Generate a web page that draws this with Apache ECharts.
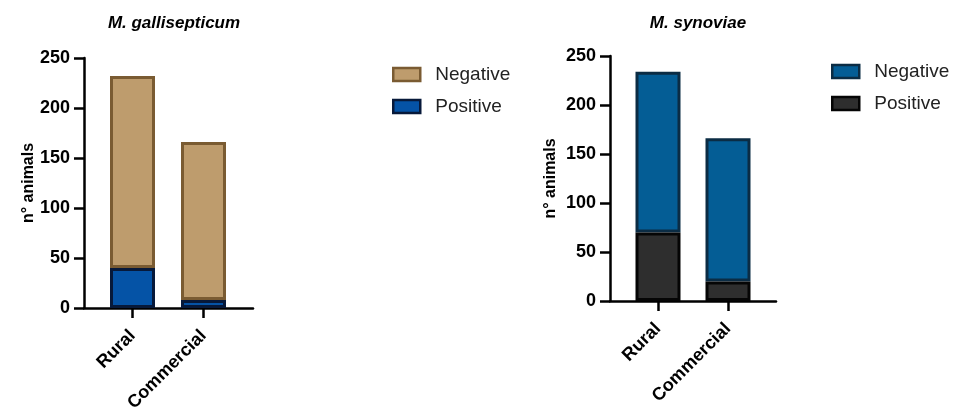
<!DOCTYPE html>
<html>
<head>
<meta charset="utf-8">
<script src="https://cdn.jsdelivr.net/npm/echarts@6/dist/echarts.min.js"></script>
<style>html,body{margin:0;padding:0;background:#fff;}#c{width:956px;height:410px;}</style>
</head>
<body>
<div id="c"></div>
<script>
const categories = ['Rural', 'Commercial'];
const mgPositive = [40, 8];
const mgNegative = [192, 158];
const msPositive = [70, 20];
const msNegative = [164, 146];
const yTicks = [0, 50, 100, 150, 200, 250];
const titles = ['M. gallisepticum', 'M. synoviae'];
const legendNames = ['Negative', 'Positive'];

const FONT = '"Liberation Sans", Arial, sans-serif';
const chart = echarts.init(document.getElementById('c'));

function mainX(gi) {
  return {
    type: 'category', gridIndex: gi, data: categories,
    axisLine: { show: false },
    axisTick: { show: true, alignWithLabel: true, length: 10, lineStyle: { color: '#000', width: 2.5 } },
    axisLabel: { rotate: 45, margin: 25, color: '#000', fontWeight: 'bold', fontSize: 18, fontFamily: FONT },
    splitLine: { show: false }
  };
}
function dummyX(gi) {
  return {
    type: 'value', gridIndex: gi, min: 0, max: 1,
    axisLine: { show: true, lineStyle: { color: '#000', width: 2.5 } },
    axisTick: { show: false }, axisLabel: { show: false }, splitLine: { show: false }
  };
}
function mainY(gi, offset, nameGap) {
  return {
    type: 'value', gridIndex: gi, min: yTicks[0], max: yTicks[yTicks.length - 1], interval: 50,
    offset: offset,
    name: 'n° animals', nameLocation: 'middle', nameGap: nameGap, nameMoveOverlap: false,
    nameTextStyle: { color: '#000', fontWeight: 'bold', fontSize: 16, fontFamily: FONT },
    axisLine: { show: true, lineStyle: { color: '#000', width: 2.5 } },
    axisTick: { show: true, length: 10, lineStyle: { color: '#000', width: 2.5 } },
    axisLabel: { margin: 14, color: '#000', fontWeight: 'bold', fontSize: 18, fontFamily: FONT },
    splitLine: { show: false }
  };
}
function dummyY(gi) {
  return { type: 'value', gridIndex: gi, min: 0, max: 1, show: false };
}

function bar(name, data, gi, stack, fill, border, z) {
  return {
    name: name, type: 'bar', stack: stack, xAxisIndex: gi, yAxisIndex: gi, data: data,
    barWidth: 45, z: z,
    itemStyle: { color: fill, borderColor: border, borderWidth: 3 },
    emphasis: { disabled: true }
  };
}

function legend(left, top, prefix) {
  return {
    orient: 'vertical', left: left, top: top, padding: 0, itemGap: 13,
    itemWidth: 27, itemHeight: 13, icon: 'rect',
    itemStyle: { borderWidth: 2.5 },
    data: legendNames.map(n => prefix + n),
    formatter: n => n.slice(prefix.length),
    textStyle: { color: '#222', fontSize: 19, fontFamily: FONT, padding: [0, 0, 0, 10] },
    selectedMode: false
  };
}

function grid(left, top, width, height) {
  return { left: left, top: top, width: width, height: height, outerBoundsMode: 'none', containLabel: false };
}

chart.setOption({
  animation: false,
  backgroundColor: '#fff',
  title: [
    { text: titles[0], left: 169, top: 10, textAlign: 'center',
      textStyle: { fontSize: 17, fontWeight: 'bold', fontStyle: 'italic', color: '#000', fontFamily: FONT } },
    { text: titles[1], left: 693, top: 10, textAlign: 'center',
      textStyle: { fontSize: 17, fontWeight: 'bold', fontStyle: 'italic', color: '#000', fontFamily: FONT } }
  ],
  legend: [legend(392, 65, 'MG '), legend(831, 62, 'MS ')],
  grid: [
    grid(97, 58, 142, 250),
    grid(84, 58, 169, 250),
    grid(623, 56, 140, 245),
    grid(610, 56, 166, 245)
  ],
  xAxis: [mainX(0), dummyX(1), mainX(2), dummyX(3)],
  yAxis: [mainY(0, 13, 47), dummyY(1), mainY(2, 13, 51), dummyY(3)],
  series: [
    bar('MG Positive', mgPositive, 0, 'mg', '#0553A6', '#07193A', 3),
    bar('MG Negative', mgNegative, 0, 'mg', '#BE9C6D', '#7A5B32', 2),
    bar('MS Positive', msPositive, 2, 'ms', '#2E2E2E', '#050505', 3),
    bar('MS Negative', msNegative, 2, 'ms', '#045D95', '#0B2C44', 2)
  ]
});
</script>
</body>
</html>
